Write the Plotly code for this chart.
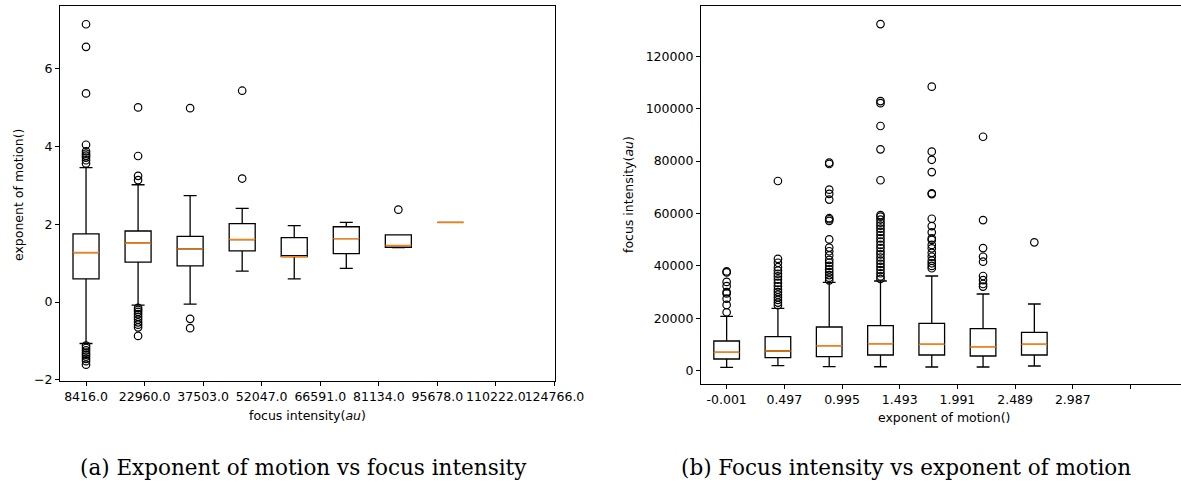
import plotly.graph_objects as go

W, H = 1181, 483

# ---------- Left panel: exponent of motion vs focus intensity ----------
left_pos = [1, 2, 3, 4, 5, 6, 7, 8]
left_q1 = [0.60, 1.03, 0.93, 1.32, 1.17, 1.25, 1.41, 2.05]
left_med = [1.275, 1.515, 1.37, 1.61, 1.17, 1.635, 1.455, 2.05]
left_q3 = [1.755, 1.83, 1.69, 2.02, 1.66, 1.94, 1.73, 2.05]
left_lo = [-1.065, -0.08, -0.05, 0.80, 0.60, 0.87, 1.40, 2.05]
left_hi = [3.46, 3.02, 2.74, 2.41, 1.97, 2.05, 1.73, 2.05]
left_outliers = [
    [7.15, 6.57, 5.37, 4.05, 3.88, 3.82, 3.77, 3.72, 3.65, 3.57,
     -1.12, -1.18, -1.24, -1.30, -1.35, -1.40, -1.46, -1.52, -1.61],
    [5.01, 3.76, 3.25, 3.14,
     -0.15, -0.20, -0.25, -0.31, -0.38, -0.45, -0.52, -0.58, -0.65, -0.87],
    [4.99, -0.43, -0.67],
    [5.44, 3.18],
    [],
    [],
    [2.38],
    [],
]
left_ticks = [1 + i * 1.125 for i in range(9)]
left_ticktext = ["8416.0", "22960.0", "37503.0", "52047.0", "66591.0",
                 "81134.0", "95678.0", "110222.0", "124766.0"]

# ---------- Right panel: focus intensity vs exponent of motion ----------
right_pos = [1, 2, 3, 4, 5, 6, 7]
right_q1 = [4470, 4960, 5340, 5990, 5990, 5610, 5990]
right_med = [7020, 7520, 9540, 10310, 10080, 9160, 10080]
right_q3 = [11340, 12980, 16680, 17180, 18090, 16030, 14650]
right_lo = [1300, 1910, 1530, 1500, 1410, 1410, 1790]
right_hi = [20760, 23820, 33740, 34240, 36150, 29280, 25460]
right_outliers = [
    [37900, 37500, 33900, 32300, 30000, 29500, 27500, 25100, 22300],
    [72400, 42700, 41200, 39500, 38200, 37000, 36000, 34800, 33500, 32200,
     31000, 30000, 29000, 28000, 27000, 26000, 25000],
    [79400, 78900, 69100, 67500, 65300, 58200, 57800, 57200, 50100, 47000,
     45600, 44000, 42300, 41200, 40000, 38700, 37600, 36500, 35500, 34500],
    [132300, 102900, 102100, 93400, 84500, 72700, 59400, 58800, 57700, 56500,
     55400, 54200, 53000, 51800, 50500, 49300, 48000, 46800, 45500, 44400,
     43200, 42000, 40800, 39600, 38400, 37200, 36000, 35000],
    [108400, 83600, 80500, 75800, 67700, 67400, 58000, 55200, 52800, 50500,
     49900, 48000, 46700, 45000, 43500, 42000, 41000, 40000, 39100],
    [89300, 57500, 46800, 43500, 41600, 36150, 34600, 33100, 32100],
    [49000],
]
right_ticks = [1 + i * 1.125 for i in range(8)]
right_ticktext = ["-0.001", "0.497", "0.995", "1.493", "1.991", "2.489", "2.987", ""]

BOX_W = 0.5
BLACK = "#000000"
ORANGE = "#ff7f0e"
FONT = "DejaVu Sans"
FS = 12.5

fig = go.Figure()


def add_panel(pos, q1, med, q3, lo, hi, outs, xa, ya):
    fig.add_trace(go.Box(
        x=pos, q1=q1, median=med, q3=q3, lowerfence=lo, upperfence=hi,
        width=BOX_W, whiskerwidth=0.5, boxpoints=False,
        fillcolor="rgba(255,255,255,0)", line=dict(color=BLACK, width=1.3),
        xaxis=xa, yaxis=ya, showlegend=False, hoverinfo="skip",
    ))
    mx, my = [], []
    for p, m in zip(pos, med):
        mx += [p - BOX_W / 2, p + BOX_W / 2, None]
        my += [m, m, None]
    fig.add_trace(go.Scatter(
        x=mx, y=my, mode="lines", line=dict(color=ORANGE, width=1.4),
        xaxis=xa, yaxis=ya, showlegend=False, hoverinfo="skip",
    ))
    ox, oy = [], []
    for p, vals in zip(pos, outs):
        ox += [p] * len(vals)
        oy += vals
    fig.add_trace(go.Scatter(
        x=ox, y=oy, mode="markers",
        marker=dict(symbol="circle-open", size=7.5, color=BLACK, line=dict(width=1.2)),
        xaxis=xa, yaxis=ya, showlegend=False, hoverinfo="skip",
    ))


add_panel(left_pos, left_q1, left_med, left_q3, left_lo, left_hi, left_outliers, "x", "y")
add_panel(right_pos, right_q1, right_med, right_q3, right_lo, right_hi, right_outliers, "x2", "y2")

axis_common = dict(
    showgrid=False, zeroline=False, showline=True, linecolor=BLACK, linewidth=1.2,
    ticks="outside", ticklen=4, tickwidth=1.1, tickcolor=BLACK, automargin=False,
    tickfont=dict(family=FONT, size=FS, color=BLACK),
)

fig.update_layout(
    width=W, height=H, autosize=False, showlegend=False,
    margin=dict(l=0, r=0, t=0, b=0, pad=0, autoexpand=False),
    paper_bgcolor="white", plot_bgcolor="white",
    boxmode="overlay",
    xaxis=dict(domain=[60 / W, 554.5 / W], range=[0.5, 10], anchor="y",
               tickmode="array", tickvals=left_ticks, ticktext=left_ticktext,
               tickangle=0, mirror=True, **axis_common),
    yaxis=dict(domain=[1 - 381 / H, 1 - 6 / H], range=[-2.03, 7.62], anchor="x",
               tickmode="array", tickvals=[-2, 0, 2, 4, 6], ticktext=["−2", "0", "2", "4", "6"],
               mirror=True, **axis_common),
    xaxis2=dict(domain=[701 / W, 1.0], range=[0.5, 9.86], anchor="y2",
                tickmode="array", tickvals=right_ticks, ticktext=right_ticktext,
                tickangle=0, mirror=True, **axis_common),
    yaxis2=dict(domain=[1 - 384.3 / H, 1 - 6 / H], range=[-5190, 139200], anchor="x2",
                tickmode="array", tickvals=[0, 20000, 40000, 60000, 80000, 100000, 120000],
                ticktext=["0", "20000", "40000", "60000", "80000", "100000", "120000"],
                mirror=False, **axis_common),
)

ann_font = dict(family=FONT, size=FS, color=BLACK)
cap_font = dict(family="DejaVu Serif", size=21.5, color=BLACK)
annotations = [
    dict(text="exponent of motion()", x=18 / W, y=1 - 195 / H, textangle=-90, font=ann_font),
    dict(text="focus intensity(<i>au</i>)", x=307 / W, y=1 - 415 / H, font=ann_font),
    dict(text="focus intensity(<i>au</i>)", x=628 / W, y=1 - 195 / H, textangle=-90, font=ann_font),
    dict(text="exponent of motion()", x=944 / W, y=1 - 417 / H, font=ann_font),
    dict(text="(a) Exponent of motion vs focus intensity", x=303 / W, y=1 - 467 / H, font=cap_font),
    dict(text="(b) Focus intensity vs exponent of motion", x=906 / W, y=1 - 467 / H, font=cap_font),
]
for a in annotations:
    fig.add_annotation(xref="paper", yref="paper", xanchor="center", yanchor="middle",
                       showarrow=False, **a)

post = """
(function(){
  var d = document, b = d.body, h = d.documentElement;
  h.style.margin='0'; h.style.padding='0'; h.style.overflow='hidden';
  b.style.margin='0'; b.style.padding='0'; b.style.overflow='hidden';
})();
"""
fig.write_html("out.html", config={"responsive": False, "displayModeBar": False},
               post_script=post)
